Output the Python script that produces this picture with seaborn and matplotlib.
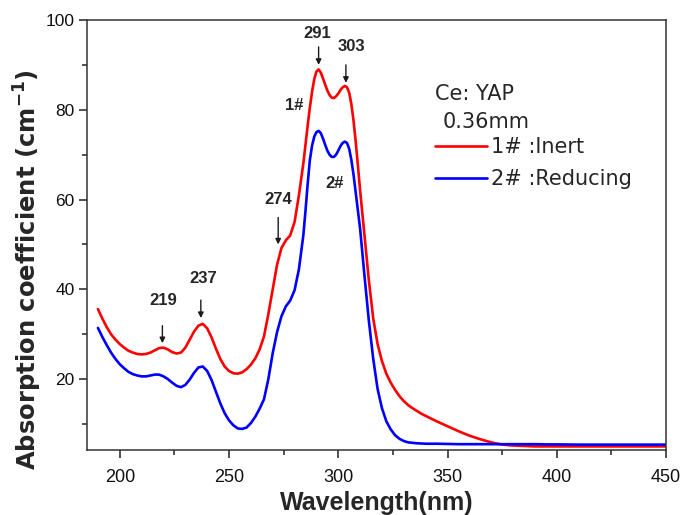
import numpy as np
import pandas as pd
import matplotlib
matplotlib.use("Agg")
import matplotlib.pyplot as plt
import seaborn as sns
from matplotlib.ticker import MultipleLocator

# Wavelength grid (nm): 2 nm steps, 1 nm across the main band, coarser in the tail
wavelength = (list(range(190, 284, 2)) + list(range(284, 311)) + list(range(312, 341, 2))
              + list(range(345, 401, 5)) + [410, 420, 430, 440, 450])

# 1# : annealed in inert atmosphere
inert = [35.6, 33.5, 31.6, 30.0, 28.8, 27.8, 27.0, 26.3, 25.9, 25.6,
         25.5, 25.6, 25.9, 26.4, 26.9, 27.0, 26.6, 26.0, 25.7, 25.9,
         27.0, 28.8, 30.6, 31.9, 32.3, 31.3, 29.3, 26.8, 24.5, 22.8,
         21.8, 21.3, 21.2, 21.5, 22.2, 23.2, 24.6, 26.6, 29.5, 34.5,
         40.0, 45.5, 49.2, 50.9, 52.0, 55.0, 61.0,
         68.0, 72.2, 76.5, 80.5, 84.0, 86.8, 88.5, 89.0, 88.3, 87.0,
         85.6, 84.3, 83.3, 82.7, 82.6, 83.0, 83.6, 84.4, 85.0, 85.3,
         85.0, 83.8, 81.2, 77.5, 72.8, 67.5, 62.0,
         52.0, 42.0, 33.5, 27.8, 24.0, 21.2, 19.2, 17.6, 16.2, 15.1,
         14.2, 13.5, 12.9, 12.3, 11.8,
         10.6, 9.5, 8.4, 7.4, 6.6, 5.9, 5.4, 5.2, 5.1, 5.0, 5.0, 5.0,
         5.0, 5.0, 5.0, 5.0, 5.0]

# 2# : annealed in reducing atmosphere
reducing = [31.4, 29.4, 27.6, 25.9, 24.5, 23.3, 22.4, 21.6, 21.1, 20.8,
            20.6, 20.6, 20.8, 21.0, 21.0, 20.6, 20.0, 19.2, 18.5, 18.2,
            18.7, 19.9, 21.4, 22.6, 22.8, 21.8, 19.8, 17.2, 14.6, 12.4,
            10.8, 9.7, 9.0, 8.9, 9.2, 10.2, 11.6, 13.4, 15.5, 20.0,
            25.8, 30.5, 34.0, 36.2, 37.5, 39.8, 44.5,
            52.0, 57.5, 63.5, 68.8, 72.0, 74.0, 75.0, 75.3, 74.8, 73.6,
            72.2, 70.9, 70.0, 69.5, 69.5, 70.0, 70.9, 71.9, 72.6, 72.9,
            72.6, 71.3, 68.8, 65.5, 61.5, 57.5, 53.5,
            43.0, 33.0, 24.5, 17.8, 13.5, 10.6, 8.8, 7.5, 6.7, 6.2,
            5.9, 5.8, 5.7, 5.65, 5.6,
            5.6, 5.55, 5.5, 5.5, 5.5, 5.5, 5.5, 5.5, 5.5, 5.5, 5.45, 5.45,
            5.4, 5.4, 5.4, 5.4, 5.4]

series_labels = ["1# :Inert", "2# :Reducing"]

# Peak markers: (label, arrow x, arrow top, arrow tip, text x, text y)
peaks = [("219", 219.5, 31.9, 28.0, 219.8, 37.6),
         ("237", 237.1, 37.6, 33.6, 238.1, 42.4),
         ("274", 272.5, 56.0, 50.0, 272.5, 59.9),
         ("291", 291.0, 94.0, 90.0, 290.6, 96.9),
         ("303", 303.5, 90.0, 86.0, 306.0, 94.0)]

df = pd.DataFrame({
    "Wavelength": wavelength * 2,
    "Absorption": inert + reducing,
    "Sample": [series_labels[0]] * len(wavelength) + [series_labels[1]] * len(wavelength),
})

sns.set_theme(style="ticks")
plt.rcParams["font.family"] = ["Liberation Sans", "DejaVu Sans"]
plt.rcParams["lines.solid_joinstyle"] = "round"

fig = plt.figure(figsize=(6.83, 5.15), dpi=100)
ax = fig.add_axes([0.1274, 0.1262, 0.9751 - 0.1274, 0.9612 - 0.1262])

sns.lineplot(data=df, x="Wavelength", y="Absorption", hue="Sample",
             palette={series_labels[0]: "#ff0000", series_labels[1]: "#0000ff"},
             linewidth=1.9, ax=ax, sort=False)

ax.set_xlim(185, 450)
ax.set_ylim(4.2, 100)
ax.xaxis.set_major_locator(MultipleLocator(50))
ax.xaxis.set_minor_locator(MultipleLocator(25))
ax.yaxis.set_major_locator(MultipleLocator(20))
ax.yaxis.set_minor_locator(MultipleLocator(10))
ax.tick_params(which="major", direction="out", length=6, width=1.1, color="#222222")
ax.tick_params(which="minor", direction="out", length=3.5, width=1.1, color="#222222")
ax.tick_params(axis="x", labelsize=13, pad=8, labelcolor="#111111")
ax.tick_params(axis="y", labelsize=12.5, pad=3, labelcolor="#111111")
for sp in ax.spines.values():
    sp.set_visible(True)
    sp.set_linewidth(1.1)
    sp.set_color("#333333")

ax.set_xlabel("Wavelength(nm)", fontsize=18, fontweight="bold", labelpad=3)
ax.set_ylabel("Absorption coefficient (cm$^{\\mathbf{-1}}$)", fontsize=17.5,
              fontweight="bold", family=["DejaVu Sans"])
ax.yaxis.set_label_coords(-0.074, 0.419)

# Peak labels with arrows
for text, ax_x, y0, y1, tx, ty in peaks:
    ax.annotate("", xy=(ax_x, y1), xytext=(ax_x, y0),
                arrowprops=dict(arrowstyle="-|>", color="k", lw=1.0,
                                mutation_scale=8, shrinkA=0, shrinkB=0))
    ax.text(tx, ty, text, ha="center", va="center", fontsize=12, fontweight="bold")

ax.text(280, 81, "1#", ha="center", va="center", fontsize=12, fontweight="bold")
ax.text(298.4, 63.6, "2#", ha="center", va="center", fontsize=12, fontweight="bold")

# Sample description and legend
ax.text(0.601, 0.814, "Ce: YAP", transform=ax.transAxes, fontsize=15,
        family=["DejaVu Sans"], ha="left", va="baseline")
ax.text(0.615, 0.749, "0.36mm", transform=ax.transAxes, fontsize=15,
        family=["DejaVu Sans"], ha="left", va="baseline")
leg = ax.legend(loc="upper left", bbox_to_anchor=(0.601, 0.728), frameon=False,
                prop={"family": "DejaVu Sans", "size": 15},
                handlelength=2.5, handletextpad=0.2,
                labelspacing=0.58, borderaxespad=0, borderpad=0)

fig.savefig("out.png", dpi=100)
